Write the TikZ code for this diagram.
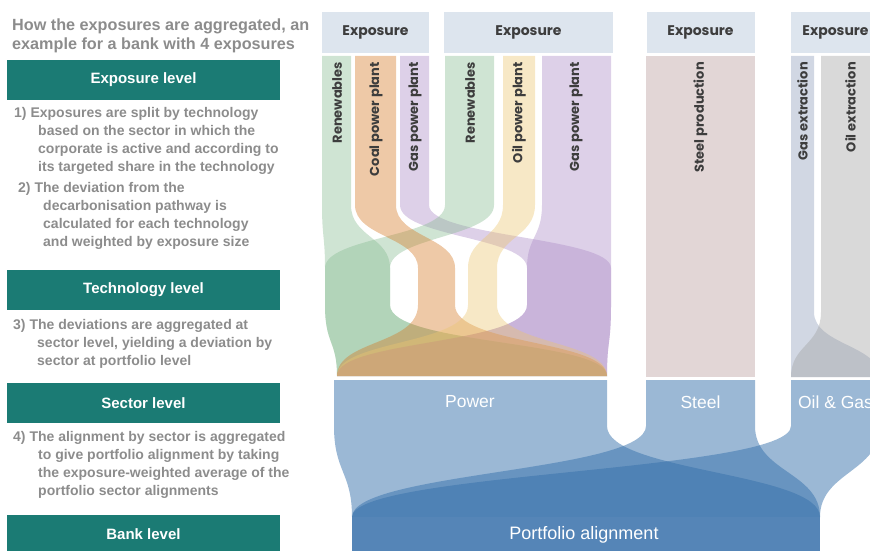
\documentclass[tikz,border=0pt]{standalone}
\usepackage{fontspec}
\setmainfont{Liberation Sans}
\newfontfamily\colfont{Poppins}
\usepackage{xcolor}
\usetikzlibrary{positioning}

\definecolor{levelteal}{HTML}{1B7B74}
\definecolor{notegray}{HTML}{8C8C8C}
\definecolor{headblue}{HTML}{DDE5EE}
\definecolor{headtext}{HTML}{3D3D3D}
\definecolor{renewgreen}{RGB}{135,187,145}
\definecolor{coalorange}{RGB}{212,120,35}
\definecolor{gaspurple}{RGB}{170,137,197}
\definecolor{oilyellow}{RGB}{235,197,112}
\definecolor{steelrose}{HTML}{E2D6D6}
\definecolor{gasxblue}{RGB}{140,155,185}
\definecolor{oilxgray}{RGB}{160,160,160}
\definecolor{sectorblue}{HTML}{3771AB}
\definecolor{bankblue}{HTML}{5585B7}

% exposure -> technology -> power
\newcommand{\techband}[5]{%
  \fill[#1,fill opacity=.4] (#2,56) -- (#2,205)
    .. controls (#2,237) and (#4,237) .. (#4,268) -- (#4,305)
    .. controls (#4,345) and (337,340) .. (337,376) -- (607,376)
    .. controls (607,340) and (#5,345) .. (#5,305) -- (#5,268)
    .. controls (#5,237) and (#3,237) .. (#3,205) -- (#3,56) -- cycle;}
% oil and gas exposures
\newcommand{\fuelband}[3]{%
  \fill[#1,fill opacity=.4] (#2,56) -- (#2,312)
    .. controls (#2,345) and (791,345) .. (791,377) -- (880,377)
    .. controls (880,345) and (#3,345) .. (#3,312) -- (#3,56) -- cycle;}
% sector -> bank
\newcommand{\sectorband}[2]{%
  \fill[sectorblue,fill opacity=.5] (#1,380) -- (#1,426)
    .. controls (#1,472) and (352,472) .. (352,517) -- (820,517)
    .. controls (820,472) and (#2,472) .. (#2,426) -- (#2,380) -- cycle;}

\begin{document}
\begin{tikzpicture}
                [x=1pt, y=-1pt,
                levelbox/.style = {fill=levelteal, text=white, font=\bfseries\fontsize{15}{17}\selectfont, minimum width=273pt, minimum height=40pt, inner sep=0pt},
                note/.style = {text=notegray, font=\bfseries\fontsize{14}{18}\selectfont, align=left, anchor=north west, inner sep=0pt},
                exphead/.style = {fill=headblue, text=headtext, font=\colfont\bfseries\fontsize{14}{16}\selectfont, minimum height=41pt, inner sep=0pt},
                techlabel/.style = {rotate=90, anchor=east, text=headtext, font=\colfont\bfseries\fontsize{13}{15}\selectfont, inner sep=0pt},
                sectorlabel/.style = {text=white, font=\fontsize{17.5}{20}\selectfont, inner sep=0pt}]
                \useasboundingbox (0,0) rectangle (870,551);
                \clip (0,0) rectangle (870,551);
                % Title and steps on the left
                \node[note, font=\bfseries\fontsize{16.2}{19}\selectfont] (title) at (12,19) {How the exposures are aggregated, an\\example for a bank with 4 exposures};
                \node[levelbox] (explevel) at (143.5,80) {Exposure level};
                \node[note] (step1) at (14,107.5) {1) Exposures are split by technology\\\hspace*{24pt}based on the sector in which the\\\hspace*{24pt}corporate is active and according to\\\hspace*{24pt}its targeted share in the technology};
                \node[note] (step2) at (18,182.5) {2) The deviation from the\\\hspace*{25pt}decarbonisation pathway is\\\hspace*{25pt}calculated for each technology\\\hspace*{25pt}and weighted by exposure size};
                \node[levelbox] (techlevel) at (143.5,290) {Technology level};
                \node[note] (step3) at (13,319.5) {3) The deviations are aggregated at\\\hspace*{24pt}sector level, yielding a deviation by\\\hspace*{24pt}sector at portfolio level};
                \node[levelbox] (sectlevel) at (143.5,403) {Sector level};
                \node[note] (step4) at (13,431.5) {4) The alignment by sector is aggregated\\\hspace*{25pt}to give portfolio alignment by taking\\\hspace*{25pt}the exposure-weighted average of the\\\hspace*{25pt}portfolio sector alignments};
                \node[levelbox, minimum height=38pt] (banklevel) at (143.5,534) {Bank level};
                % Exposure headers
                \node[exphead, minimum width=107pt] (exp1) at (375.5,32.5) {Exposure};
                \node[exphead, minimum width=169pt] (exp2) at (528.5,32.5) {Exposure};
                \node[exphead, minimum width=108pt] (exp3) at (700.5,32.5) {Exposure};
                \node[exphead, minimum width=89pt] (exp4) at (835.5,32.5) {Exposure};
                % Flows from exposures to the power sector
                \techband{renewgreen}{322}{351}{325}{390}
                \techband{gaspurple}{400}{429}{527}{611}
                \techband{renewgreen}{445}{494}{325}{390}
                \techband{gaspurple}{542}{611}{527}{611}
                \techband{coalorange}{355}{396}{418}{455}
                \techband{oilyellow}{503}{535}{468}{497}
                % Steel and oil & gas
                \fill[steelrose] (646,56) rectangle (755,377);
                \fuelband{gasxblue}{791}{814}
                \fuelband{oilxgray}{821}{880}
                % Technology names
                \node[techlabel] (renew1) at (337,62) {Renewables};
                \node[techlabel] (coal1) at (376,62) {Coal power plant};
                \node[techlabel] (gas1) at (415,62) {Gas power plant};
                \node[techlabel] (renew2) at (470,62) {Renewables};
                \node[techlabel] (oil2) at (519,62) {Oil power plant};
                \node[techlabel] (gas2) at (576,62) {Gas power plant};
                \node[techlabel] (steel3) at (700.5,62) {Steel production};
                \node[techlabel] (gasx4) at (802.5,62) {Gas extraction};
                \node[techlabel] (oilx4) at (850.5,62) {Oil extraction};
                % Flows from sectors to the bank
                \sectorband{334}{607}
                \sectorband{646}{755}
                \sectorband{791}{880}
                \fill[bankblue] (352,517) rectangle (820,551);
                % Sector and bank names
                \node[sectorlabel] (power) at (470,402) {Power};
                \node[sectorlabel] (steel) at (700.5,402) {Steel};
                \node[sectorlabel] (oilgas) at (835.5,402) {Oil \& Gas};
                \node[sectorlabel, font=\fontsize{18}{20}\selectfont] (portfolio) at (584,535) {Portfolio alignment};
            \end{tikzpicture}
\end{document}
